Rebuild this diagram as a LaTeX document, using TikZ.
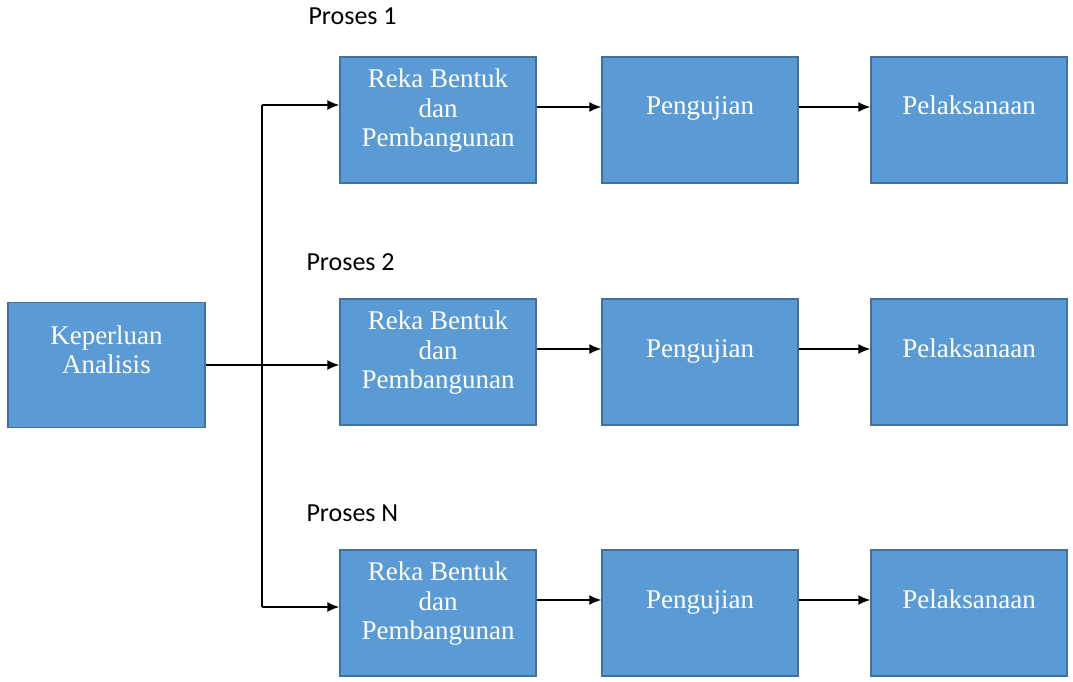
\documentclass[tikz,border=0pt]{standalone}
\usepackage{fontspec}
\setmainfont{Liberation Serif}
\newfontfamily\prosesfont{Carlito}
\usetikzlibrary{arrows.meta}
\tikzset{>={Latex[length=12pt,width=10pt]}}
\definecolor{BoxBlue}{RGB}{91,155,213}
\definecolor{BoxEdge}{RGB}{65,113,156}

\begin{document}
\begin{tikzpicture}[x=1pt,y=-1pt,
    box/.style={draw=BoxEdge, line width=1.4pt, fill=BoxBlue, minimum width=196pt, minimum height=126pt, inner sep=0pt},
    boxtext/.style={text=white, align=center, font=\fontsize{27}{29.5}\selectfont, yshift=15pt},
    oneline/.style={boxtext, text height=18pt, text depth=6pt, yshift=-4pt},
    threeline/.style={boxtext, yshift=-6pt},
    tag/.style={anchor=base west, font=\prosesfont\fontsize{26}{30}\selectfont},
    link/.style={->, line width=1.6pt}]
  \useasboundingbox (0,0) rectangle (1073,682);
  % kotak analisis
  \node[box, minimum width=197pt, minimum height=125pt, label={[boxtext]center:{Keperluan\\Analisis}}] (analisis) at (106.5,365) {};
  % tiga proses
  \node[tag] (tag1) at (305,25) {Proses 1};
  \node[tag] (tag2) at (303,270) {Proses 2};
  \node[tag] (tagN) at (303,521) {Proses N};
  \foreach \r/\y in {1/120,2/362,3/613}{
    \node[box, label={[threeline]center:{Reka Bentuk\\dan\\Pembangunan}}] (reka\r) at (438,\y) {};
    \node[box, label={[oneline]center:Pengujian}] (uji\r) at (700,\y) {};
    \node[box, label={[oneline]center:Pelaksanaan}] (laksana\r) at (969,\y) {};
    \draw[link] ([yshift=13pt]reka\r.east) -- ([yshift=13pt]uji\r.west);
    \draw[link] ([yshift=13pt]uji\r.east) -- ([yshift=13pt]laksana\r.west);
  }
  % cabang
  \coordinate (atas) at (262,105);
  \coordinate (bawah) at (262,607);
  \draw[line width=1.6pt] (atas) -- (bawah);
  \draw[link] (atas) -- (atas -| reka1.west);
  \draw[link] (bawah) -- (bawah -| reka3.west);
  \draw[link] (analisis.east) -- (analisis.east -| reka2.west);
\end{tikzpicture}
\end{document}
